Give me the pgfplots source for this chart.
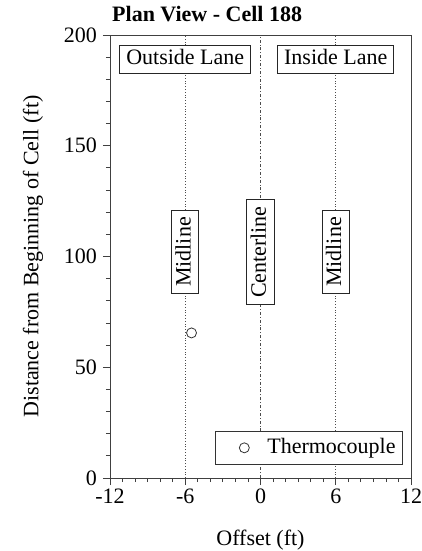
\documentclass[border=0pt]{standalone}
\usepackage{pgfplots}
\pgfplotsset{compat=1.18}
\usepackage{fontspec}
\setmainfont{Liberation Serif}
\begin{document}
\fontsize{22bp}{26bp}\selectfont
\begin{tikzpicture}
\path[use as bounding box] (-110bp,-73bp) rectangle (312bp,478bp);
\begin{axis}[
  at={(0,0)}, anchor=south west,
  scale only axis, width=301bp, height=443bp,
  xmin=-12, xmax=12, ymin=0, ymax=200,
  xtick={-12,-6,0,6,12}, ytick={0,50,100,150,200},
  minor x tick num=5, minor y tick num=4,
  xtick pos=bottom, ytick pos=left,
  tick align=outside,
  major tick length=7bp, minor tick length=4bp,
  axis line style={black!75, line width=0.8bp},
  every tick/.style={black!75, line width=0.8bp},
  /pgf/number format/assume math mode=true,
  xticklabel style={inner sep=0pt, yshift=-4bp},
  yticklabel style={inner xsep=0pt, xshift=-6bp},
  title={\bfseries Plan View - Cell 188},
  title style={at={(0,1)}, anchor=base west, inner sep=0pt, xshift=2bp, yshift=8bp},
  xlabel={Offset (ft)},
  xlabel style={at={(axis description cs:0.5,0)}, anchor=base, inner sep=0pt, yshift=-67bp},
  ylabel={Distance from Beginning of Cell (ft)},
  ylabel style={at={(axis description cs:-0.2558,0.5)}, anchor=center, inner sep=0pt},
  legend style={at={(1,0)}, anchor=south east, xshift=-8bp, yshift=13bp,
    draw=black!80, line width=0.8bp, inner xsep=5bp, inner ysep=5.5bp},
  legend image code/.code={\path[draw=none] (-24bp,0bp) -- (21bp,0bp); \draw[#1, draw=none] plot coordinates {(0bp,0bp)};},
]
\addplot[black!70, line width=0.8bp, dotted, forget plot] coordinates {(-6,0) (-6,200)};
\addplot[black!70, line width=0.8bp, dash dot, forget plot] coordinates {(0,0) (0,200)};
\addplot[black!70, line width=0.8bp, dotted, forget plot] coordinates {(6,0) (6,200)};
\tikzset{lbl/.style={draw=black!85, fill=white, line width=0.8bp, inner xsep=6.5bp, inner ysep=3.5bp, text height=0.7em, text depth=0.22em}}
\node[lbl] at (axis cs:-6,189) {Outside Lane};
\node[lbl] at (axis cs:6,189) {Inside Lane};
\node[lbl, rotate=90] at (axis cs:-6,102) {Midline};
\node[lbl, rotate=90] at (axis cs:0,102) {Centerline};
\node[lbl, rotate=90] at (axis cs:6,102) {Midline};
\addplot[only marks, mark=o, mark size=5bp, mark options={black!80, line width=0.8bp, draw=black!80}] coordinates {(-5.5,65.5)};
\addlegendentry{Thermocouple}
\end{axis}
\end{tikzpicture}
\end{document}
